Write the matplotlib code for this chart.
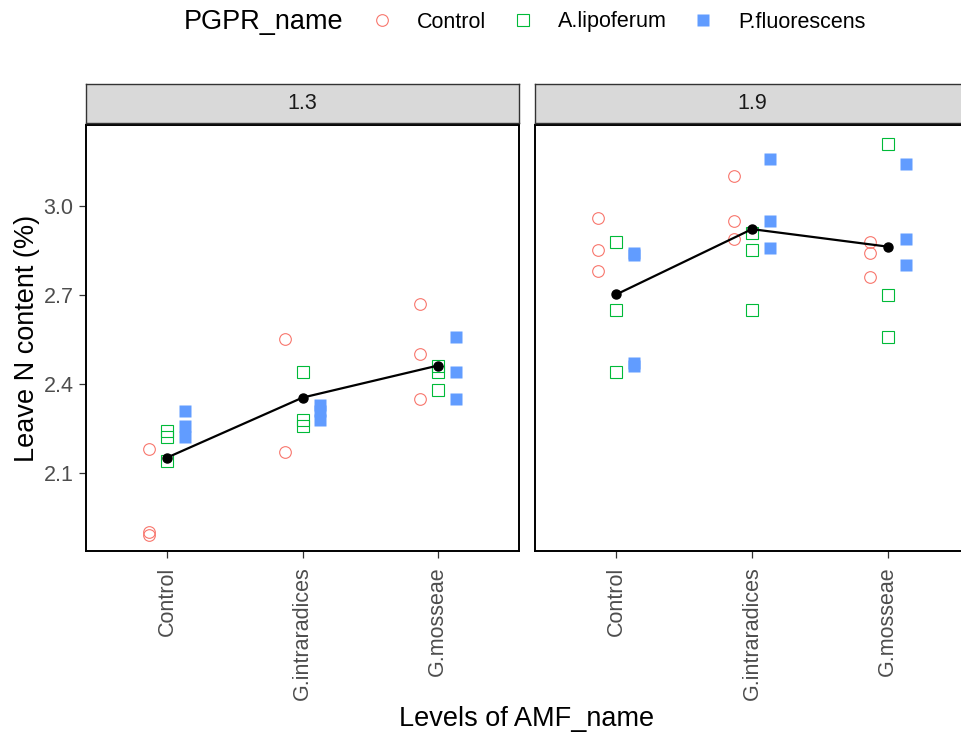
import matplotlib
matplotlib.use("Agg")
import matplotlib.pyplot as plt
from matplotlib.lines import Line2D

plt.rcParams['font.family'] = ['Liberation Sans', 'DejaVu Sans']

amf_levels = ["Control", "G.intraradices", "G.mosseae"]
pgpr_levels = ["Control", "A.lipoferum", "P.fluorescens"]
facet_labels = ["1.3", "1.9"]

# leave N content (%) per AMF level, one list per PGPR group
# facet 1.3
n13_control = [[2.18, 1.90, 1.89], [2.24, 2.22, 2.14], [2.31, 2.26, 2.22]]
n13_gintra = [[2.55, 2.17], [2.44, 2.28, 2.26], [2.33, 2.31, 2.28]]
n13_gmoss = [[2.67, 2.50, 2.35], [2.46, 2.44, 2.38], [2.56, 2.44, 2.35]]
# facet 1.9
n19_control = [[2.96, 2.85, 2.78], [2.88, 2.65, 2.44], [2.84, 2.835, 2.47, 2.46]]
n19_gintra = [[3.10, 2.95, 2.89], [2.91, 2.85, 2.65], [3.16, 2.95, 2.86]]
n19_gmoss = [[2.88, 2.84, 2.76], [3.21, 2.70, 2.56], [3.14, 2.89, 2.80]]

# mean line
means_13 = [2.152, 2.354, 2.462]
means_19 = [2.702, 2.922, 2.863]

facet_data = [[n13_control, n13_gintra, n13_gmoss],
              [n19_control, n19_gintra, n19_gmoss]]
facet_means = [means_13, means_19]

colors = ["#F8766D", "#00BA38", "#619CFF"]
dodge = [-0.133, 0.0, 0.133]
yticks = [2.1, 2.4, 2.7, 3.0]

W, H = 961, 737
fig = plt.figure(figsize=(W / 100, H / 100), dpi=100)


def marker_kw(k):
    if k == 0:
        return dict(marker='o', ms=8.4, mfc='none', mec=colors[0], mew=0.8)
    if k == 1:
        return dict(marker='s', ms=8.6, mfc='none', mec=colors[1], mew=0.8)
    return dict(marker='s', ms=9.0, mfc=colors[2], mec='none')


panels = [(86, 433), (535, 434)]
top, bottom = 125, 551
for i, (x0, w) in enumerate(panels):
    ax = fig.add_axes([x0 / W, 1 - bottom / H, w / W, (bottom - top) / H])
    for j, groups in enumerate(facet_data[i]):
        for k, vals in enumerate(groups):
            ax.plot([j + 1 + dodge[k]] * len(vals), vals, ls='none', zorder=2, **marker_kw(k))
    ax.plot([1, 2, 3], facet_means[i], color='black', lw=1.6, marker='o', ms=6.5, zorder=3)
    ax.set_xlim(0.4, 3.6)
    ax.set_ylim(1.837, 3.273)
    ax.set_xticks([1, 2, 3])
    ax.set_xticklabels(amf_levels, rotation=90, ha='center', va='top')
    ax.set_yticks(yticks)
    if i == 0:
        ax.set_yticklabels(["%.1f" % v for v in yticks])
    else:
        ax.tick_params(axis='y', left=False, labelleft=False)
    ax.tick_params(length=5, width=0.9, color='#333333', labelcolor='#4D4D4D', labelsize=15.5)
    ax.tick_params(axis='x', pad=6)
    ax.tick_params(axis='y', pad=4)
    for sp in ax.spines.values():
        sp.set_color('black')
        sp.set_linewidth(1.4)

    # facet strip
    sax = fig.add_axes([x0 / W, 1 - 123 / H, w / W, 39 / H])
    sax.set_facecolor('#D9D9D9')
    sax.set_xticks([])
    sax.set_yticks([])
    for sp in sax.spines.values():
        sp.set_color('#333333')
        sp.set_linewidth(1.0)
    sax.text(0.5, 0.5, facet_labels[i], ha='center', va='center', fontsize=15.5,
             color='#1A1A1A', transform=sax.transAxes)

fig.text(27 / W, 1 - 338 / H, "Leave N content (%)", rotation=90, ha='center', va='center',
         fontsize=19.5)
fig.text(527 / W, 1 - 719 / H, "Levels of AMF_name", ha='center', va='center', fontsize=19.5)

# legend on top
fig.text(184 / W, 1 - 22 / H, "PGPR_name", ha='left', va='center', fontsize=19.5)
handles = [Line2D([], [], ls='none', **marker_kw(k)) for k in range(3)]
fig.legend(handles, pgpr_levels, ncol=3, loc='center left', bbox_to_anchor=(371 / W, 1 - 22 / H),
           frameon=False, fontsize=15.5, handlelength=1.0, handletextpad=1.13,
           columnspacing=1.2, borderpad=0, borderaxespad=0)

fig.savefig("out.png", dpi=100)
